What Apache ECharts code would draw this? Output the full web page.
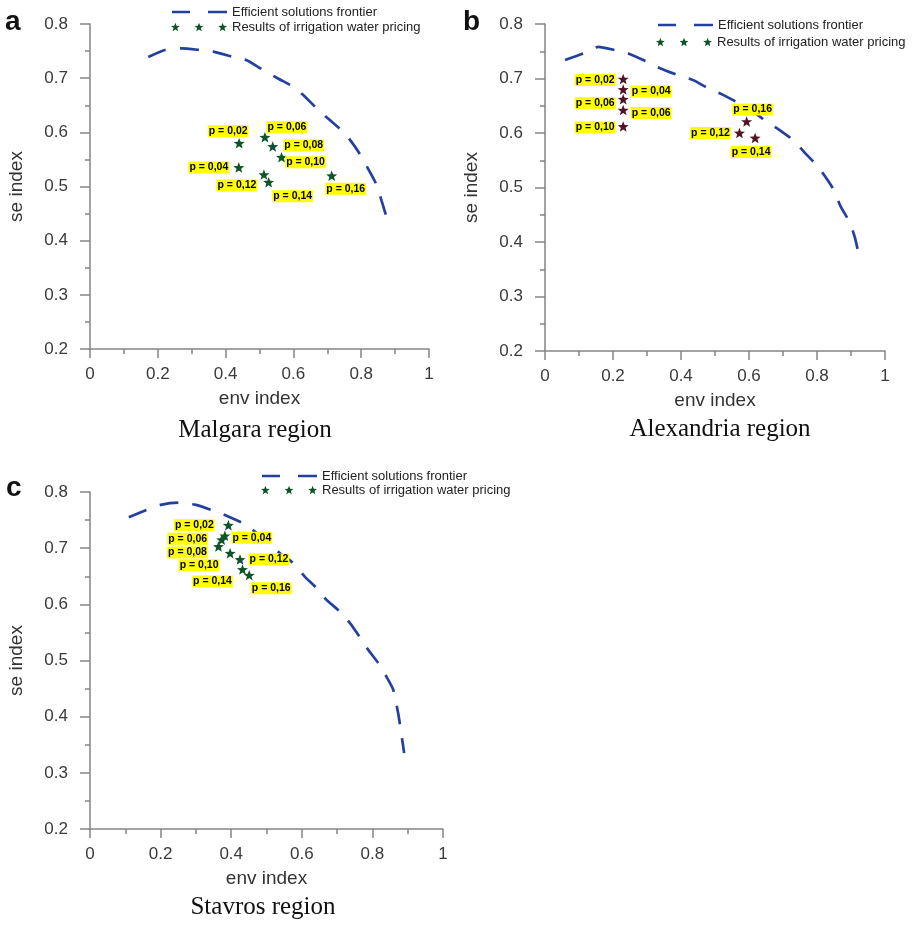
<!DOCTYPE html>
<html><head><meta charset="utf-8">
<script src="https://cdn.jsdelivr.net/npm/echarts@6/dist/echarts.min.js"></script>
<style>html,body{margin:0;padding:0;background:#fff}#c{width:918px;height:928px}</style>
</head><body><div id="c"></div>
<script>
// ---------------- DATA ----------------
const FRONTIER = 'Efficient solutions frontier';
const PRICING = 'Results of irrigation water pricing';
const panelLetters = ['a', 'b', 'c'];
const regionNames = ['Malgara region', 'Alexandria region', 'Stavros region'];
const xAxisName = 'env index';
const yAxisName = 'se index';

// Panel a (Malgara)
const frontierA_x = [0.172,0.221,0.27,0.324,0.364,0.423,0.462,0.511,0.556,0.6,0.629,0.669,0.703,0.747,0.772,0.796,0.821,0.846,0.86,0.875];
const frontierA_y = [0.739,0.752,0.755,0.752,0.749,0.739,0.733,0.715,0.699,0.684,0.669,0.644,0.625,0.601,0.582,0.56,0.532,0.502,0.474,0.443];
const pricingA_x = [0.44,0.439,0.516,0.539,0.565,0.513,0.527,0.713];
const pricingA_y = [0.58,0.535,0.591,0.574,0.554,0.522,0.508,0.52];
const pricingA_labels = ['p = 0,02','p = 0,04','p = 0,06','p = 0,08','p = 0,10','p = 0,12','p = 0,14','p = 0,16'];

// Panel b (Alexandria)
const frontierB_x = [0.059,0.113,0.157,0.206,0.245,0.299,0.338,0.392,0.436,0.48,0.524,0.569,0.61,0.65,0.691,0.73,0.765,0.799,0.824,0.853,0.868,0.897,0.912,0.922];
const frontierB_y = [0.734,0.746,0.758,0.752,0.746,0.731,0.719,0.706,0.697,0.682,0.67,0.655,0.64,0.622,0.605,0.587,0.563,0.541,0.52,0.492,0.467,0.435,0.407,0.379];
const pricingB_x = [0.23,0.23,0.23,0.23,0.23,0.572,0.618,0.593];
const pricingB_y = [0.699,0.68,0.662,0.642,0.612,0.6,0.591,0.621];
const pricingB_labels = ['p = 0,02','p = 0,04','p = 0,06','p = 0,06','p = 0,10','p = 0,12','p = 0,14','p = 0,16'];

// Panel c (Stavros)
const frontierC_x = [0.11,0.16,0.2,0.25,0.3,0.344,0.39,0.434,0.47,0.51,0.54,0.571,0.609,0.642,0.67,0.708,0.737,0.765,0.788,0.817,0.84,0.859,0.873,0.883,0.89];
const frontierC_y = [0.755,0.768,0.777,0.781,0.777,0.768,0.757,0.744,0.728,0.706,0.69,0.676,0.649,0.629,0.608,0.587,0.566,0.541,0.519,0.495,0.471,0.448,0.406,0.365,0.335];
const pricingC_x = [0.392,0.382,0.373,0.364,0.397,0.425,0.432,0.451];
const pricingC_y = [0.741,0.722,0.715,0.703,0.691,0.68,0.662,0.652];
const pricingC_labels = ['p = 0,02','p = 0,04','p = 0,06','p = 0,08','p = 0,10','p = 0,12','p = 0,14','p = 0,16'];

// ---------------- LAYOUT / STYLE ----------------
const labelOffsetA = [[-11,-12],[-30,0],[22,-10],[31,-1],[24,5],[-27,11],[24,14],[14,13]];
const labelOffsetB = [[-28,1],[28,2],[-28,4],[28,3],[-28,1],[-29,0],[-4,14],[6,-12]];
const labelOffsetC = [[-34,0],[27,2],[-34,-1],[-31,6],[-31,12],[29,0],[-30,12],[22,13]];

const grids = [
  {left: 90, top: 24, width: 339, height: 325},
  {left: 545, top: 24, width: 340, height: 327},
  {left: 90, top: 492, width: 353, height: 337}
];
const BLUE = '#23409e';
const GREEN = '#0d5426';
const MAROON = '#521425';
const AXIS = '#858585';
const FONT = 'Liberation Sans, Arial, sans-serif';

function starPath(cx, cy, R) {
  let s = '';
  for (let i = 0; i < 10; i++) {
    const a = (-90 + i * 36) * Math.PI / 180;
    const r = i % 2 ? R * 0.42 : R;
    s += (i ? 'L' : 'M') + (cx + r * Math.cos(a)).toFixed(2) + ',' + (cy + r * Math.sin(a)).toFixed(2);
  }
  return s + 'Z';
}
const starSymbol = 'path://' + starPath(0, 0, 10);
const starLegendIcon = 'path://' + starPath(0, 0, 4.6) + starPath(23.5, 0, 4.6) + starPath(47, 0, 4.6);
const dashLegendIcon = 'path://M0,0h18v2.6h-18zM36,0h19v2.6h-19z';

const zip = (xs, ys) => xs.map((x, i) => [x, ys[i]]);

function axes(i) {
  const lineStyle = {color: AXIS, width: 1.5};
  return {
    x: {
      type: 'value', gridIndex: i, min: 0, max: 1, interval: 0.2,
      axisLine: {show: true, lineStyle},
      axisTick: {show: true, length: 9, lineStyle},
      minorTick: {show: true, splitNumber: 2, length: 5, lineStyle},
      splitLine: {show: false}, minorSplitLine: {show: false},
      axisLabel: {margin: 17, fontSize: 17, color: '#3a3a3a', fontFamily: FONT, showMinLabel: true, showMaxLabel: true},
      name: xAxisName, nameLocation: 'middle', nameGap: 40,
      nameTextStyle: {fontSize: 19, color: '#333', fontFamily: FONT}
    },
    y: {
      type: 'value', gridIndex: i, min: 0.2, max: 0.8, interval: 0.1,
      axisLine: {show: true, lineStyle},
      axisTick: {show: true, length: 10, lineStyle},
      minorTick: {show: true, splitNumber: 2, length: 5, lineStyle},
      splitLine: {show: false}, minorSplitLine: {show: false},
      axisLabel: {margin: 22, fontSize: 17, color: '#3a3a3a', fontFamily: FONT, showMinLabel: true, showMaxLabel: true},
      name: yAxisName, nameLocation: 'middle', nameGap: 64,
      nameTextStyle: {fontSize: 19, color: '#333', fontFamily: FONT}
    }
  };
}

const panels = [
  {fx: frontierA_x, fy: frontierA_y, px: pricingA_x, py: pricingA_y, lab: pricingA_labels, off: labelOffsetA, color: GREEN},
  {fx: frontierB_x, fy: frontierB_y, px: pricingB_x, py: pricingB_y, lab: pricingB_labels, off: labelOffsetB, color: MAROON},
  {fx: frontierC_x, fy: frontierC_y, px: pricingC_x, py: pricingC_y, lab: pricingC_labels, off: labelOffsetC, color: GREEN}
];

const xAxes = [], yAxes = [], series = [];
panels.forEach((p, i) => {
  const a = axes(i);
  xAxes.push(a.x); yAxes.push(a.y);
  series.push({
    type: 'line', name: FRONTIER, xAxisIndex: i, yAxisIndex: i,
    data: zip(p.fx, p.fy), symbol: 'none', showSymbol: false, smooth: 0.2,
    lineStyle: {color: BLUE, width: 2.7, type: [19, 14]}, itemStyle: {color: BLUE},
    z: 2, silent: true
  });
  series.push({
    type: 'scatter', name: PRICING, xAxisIndex: i, yAxisIndex: i,
    data: p.px.map((x, k) => ({name: p.lab[k], value: [x, p.py[k]], label: {offset: p.off[k]}})),
    symbol: starSymbol, symbolSize: [11, 10.5],
    itemStyle: {color: p.color, opacity: 1},
    label: {
      show: true, position: 'inside', formatter: '{b}', color: '#000', fontWeight: 'bold',
      fontSize: 10.5, fontFamily: FONT, backgroundColor: '#ffff00', padding: [1, 1, 0, 1], lineHeight: 11
    },
    z: 3, silent: true
  });
});

const legendCommon = {
  orient: 'horizontal', padding: 0, selectedMode: false,
  itemStyle: {borderWidth: 0, opacity: 1},
  textStyle: {fontSize: 13, color: '#222', fontFamily: FONT}
};
const legendPos = [
  [[172, 5.5], [171, 20.5]],
  [[658, 18.5], [656, 35.5]],
  [[262, 469.5], [261, 483.5]]
];
const legends = [];
legendPos.forEach(pp => {
  legends.push(Object.assign({}, legendCommon, {left: pp[0][0], top: pp[0][1], itemWidth: 55, itemHeight: 2.6,
    data: [{name: FRONTIER, icon: dashLegendIcon}]}));
  legends.push(Object.assign({}, legendCommon, {left: pp[1][0], top: pp[1][1], itemWidth: 56, itemHeight: 8.4,
    data: [{name: PRICING, icon: starLegendIcon}]}));
});

const letterPos = [[5, 8], [463, 8], [6, 474]];
const regionPos = [[255, 418], [720, 416.5], [263, 894.7]];
const titles = [];
panelLetters.forEach((t, i) => titles.push({
  text: t, left: letterPos[i][0], top: letterPos[i][1], padding: 0,
  textStyle: {fontSize: 28, fontWeight: 'bold', color: '#111', fontFamily: FONT}
}));
regionNames.forEach((t, i) => titles.push({
  text: t, left: regionPos[i][0], top: regionPos[i][1], padding: 0, textAlign: 'center',
  textStyle: {fontSize: 25, fontWeight: 'normal', color: '#111', fontFamily: 'Liberation Serif, Times New Roman, serif'}
}));

const chart = echarts.init(document.getElementById('c'), null, {renderer: 'canvas'});
chart.setOption({
  backgroundColor: '#fff',
  animation: false,
  title: titles,
  legend: legends,
  grid: grids,
  xAxis: xAxes,
  yAxis: yAxes,
  series: series
});
</script></body></html>
